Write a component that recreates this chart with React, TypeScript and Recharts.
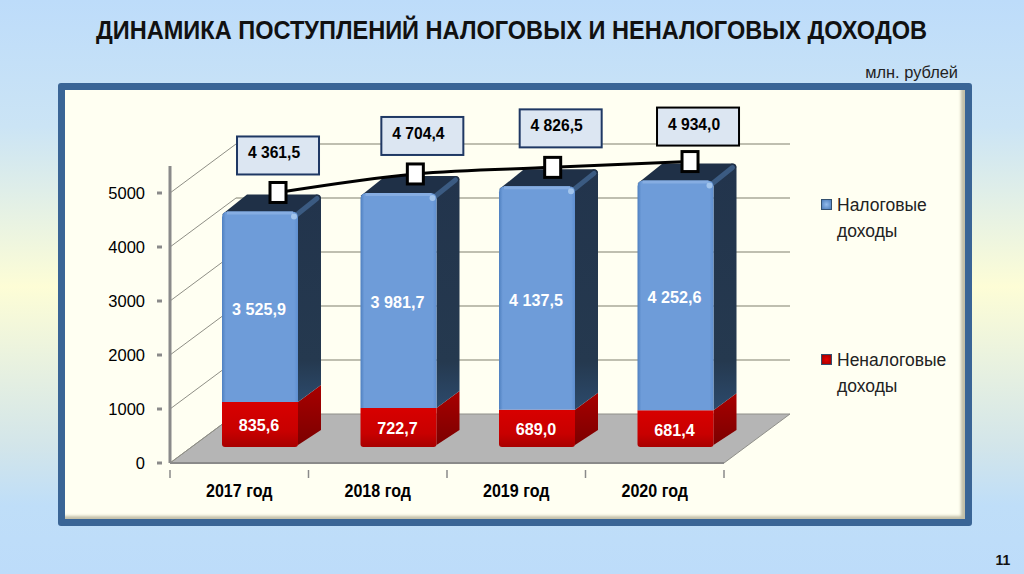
import React from "react";
import { ComposedChart, Bar, Line, XAxis, YAxis, CartesianGrid, Legend, LabelList } from "recharts";

const categories = ["2017 год", "2018 год", "2019 год", "2020 год"];
const taxRevenue = [3525.9, 3981.7, 4137.5, 4252.6];
const nonTaxRevenue = [835.6, 722.7, 689.0, 681.4];
const totalRevenue = [4361.5, 4704.4, 4826.5, 4934.0];
const yTicks = [0, 1000, 2000, 3000, 4000, 5000];
const data = categories.map((name, i) => ({
  name,
  tax: taxRevenue[i],
  nonTax: nonTaxRevenue[i],
  total: totalRevenue[i],
}));

const FONT = "'Liberation Sans', Arial, sans-serif";
const fmt = (v: number) => {
  const [a, b] = v.toFixed(1).split(".");
  const head = a.length > 3 ? a.slice(0, a.length - 3) + " " + a.slice(-3) : a;
  return head + "," + b;
};

const BAR_DX = 21, BAR_DY = -16, DEPTH_X = 23, DEPTH_Y = -17;
const LINE_SX = 0.9916, LINE_DX = 40.77, LINE_DY = -35;
const WALL_DX = 66, WALL_DY = -49;
const PLOT_L = 170, PLOT_R = 724, PLOT_TOP = 166, PLOT_BOTTOM = 463;
const boxNudge = [[0, -37], [7, -38], [8, -39], [8, -35]];
const boxStroke = ["#1f3864", "#1f3864", "#1f3864", "#000"];
const lineX = (x: number) => x * LINE_SX + LINE_DX;

function Narrow({ x, y, sx = 0.95, children, ...rest }: any) {
  return (
    <text transform={`translate(${x},${y}) scale(${sx},1)`} fontFamily={FONT} {...rest}>
      {children}
    </text>
  );
}

function Bar3D(p: any) {
  const { x, y, width, height, front, side, top } = p;
  const l = x + BAR_DX, r = l + width, t = y + BAR_DY, b = t + height;
  const rad = 6;
  if (top) {
    return (
      <g>
        <path
          d={`M${r} ${b}L${r + DEPTH_X} ${b + DEPTH_Y}L${r + DEPTH_X} ${t + DEPTH_Y + 5}Q${r + DEPTH_X} ${t + DEPTH_Y} ${r + DEPTH_X - 5} ${t + DEPTH_Y}L${r} ${t}Z`}
          fill={side}
        />
        <path
          d={`M${l} ${t + 3}L${l + DEPTH_X + 2} ${t + DEPTH_Y}L${r + DEPTH_X - 4} ${t + DEPTH_Y}Q${r + DEPTH_X} ${t + DEPTH_Y} ${r + DEPTH_X} ${t + DEPTH_Y + 4}L${r} ${t + 4}Z`}
          fill={top}
        />
        <line x1={r - 1} y1={t + 3} x2={r + DEPTH_X - 4} y2={t + DEPTH_Y + 4} stroke="#3b5b82" strokeWidth={5} strokeLinecap="round" />
        <path
          d={`M${l} ${b}L${l} ${t + rad}Q${l} ${t} ${l + rad} ${t}L${r - rad} ${t}Q${r} ${t} ${r} ${t + rad}L${r} ${b}Z`}
          fill={front}
        />
        <line x1={l + 5} y1={t + 1.5} x2={r - 5} y2={t + 1.5} stroke="#86ade2" strokeWidth={3} />
        <circle cx={r - 4} cy={t + 5} r={3} fill="#a3c5ec" />
      </g>
    );
  }
  return (
    <g>
      <path d={`M${r} ${b - 2}L${r + DEPTH_X} ${b + DEPTH_Y}L${r + DEPTH_X} ${t + DEPTH_Y}L${r} ${t}Z`} fill={side} />
      <path
        d={`M${l} ${t}L${r} ${t}L${r} ${b - 3}Q${r} ${b} ${r - 3} ${b}L${l + 3} ${b}Q${l} ${b} ${l} ${b - 3}Z`}
        fill={front}
      />
    </g>
  );
}

function BarLabel(p: any) {
  const { x, y, width, height, value, shiftY = 0 } = p;
  return (
    <Narrow
      x={x + BAR_DX + width / 2 - 1}
      y={y + BAR_DY + height / 2 + 6 + shiftY}
      textAnchor="middle"
      fill="#fff"
      fontWeight={700}
      fontSize={17}
    >
      {fmt(value)}
    </Narrow>
  );
}

function Marker(p: any) {
  const { cx, cy } = p;
  return (
    <rect x={lineX(cx) - 8} y={cy + LINE_DY - 10} width={16} height={20} fill="#fff" stroke="#000" strokeWidth={3} />
  );
}

function TotalBox(p: any) {
  const { x, y, value, index } = p;
  const cx = lineX(x) + boxNudge[index][0];
  const cy = y + LINE_DY + boxNudge[index][1];
  return (
    <g>
      <rect x={cx - 41} y={cy - 19} width={82} height={38} fill="#dce6f2" stroke={boxStroke[index]} strokeWidth={2} />
      <Narrow x={cx - 4} y={cy + 3} textAnchor="middle" fill="#000" fontWeight={700} fontSize={16.5}>
        {fmt(value)}
      </Narrow>
    </g>
  );
}

function GridRow(p: any) {
  const { x1, x2, y1 } = p;
  if (Math.abs(y1 - PLOT_TOP) < 1) return null;
  const isFloor = Math.abs(y1 - PLOT_BOTTOM) < 1;
  const bx = x1 + WALL_DX, ex = x2 + WALL_DX, by = y1 + WALL_DY;
  return (
    <g>
      {isFloor && <path d={`M${x1} ${y1}L${x2} ${y1}L${ex} ${by}L${bx} ${by}Z`} fill="#b5b5b5" stroke="#8f8f8a" />}
      <line x1={x1} y1={y1} x2={bx} y2={by} stroke="#8f8f86" strokeWidth={1} />
      {!isFloor && <line x1={bx} y1={by} x2={ex} y2={by} stroke="#bfbfb0" strokeWidth={2} />}
    </g>
  );
}

function YTick(p: any) {
  const { x, y, payload } = p;
  return (
    <g>
      <line x1={x - 5} x2={x} y1={y} y2={y} stroke="#8a8a8a" strokeWidth={3} />
      <text x={x - 17} y={y + 6} textAnchor="end" fill="#000" fontFamily={FONT} fontSize={16.5}>
        {payload.value}
      </text>
    </g>
  );
}

function XTick(p: any) {
  const { x, y, payload, index } = p;
  const half = (PLOT_R - PLOT_L) / categories.length / 2;
  return (
    <g>
      <line x1={x - half} x2={x - half} y1={y - 1} y2={y + 7} stroke="#8a8a8a" strokeWidth={1.5} />
      {index === categories.length - 1 && (
        <line x1={x + half} x2={x + half} y1={y - 1} y2={y + 7} stroke="#8a8a8a" strokeWidth={1.5} />
      )}
      <Narrow x={x} y={y + 26} sx={0.92} textAnchor="middle" fill="#000" fontWeight={700} fontSize={17.5}>
        {payload.value}
      </Narrow>
    </g>
  );
}

const legendItems = [
  { lines: ["Налоговые", "доходы"], swatch: "radial-gradient(#93bbec,#4c7cba)", top: 193 },
  { lines: ["Неналоговые", "доходы"], swatch: "radial-gradient(#e80000,#9a0000)", top: 348 },
];

function LegendBox() {
  return (
    <div style={{ position: "relative", width: 200, height: 300 }}>
      {legendItems.map((it) => (
        <div key={it.lines[0]} style={{ position: "absolute", left: 0, top: it.top - 193 }}>
          <div
            style={{
              position: "absolute",
              left: 1,
              top: 6,
              width: 9,
              height: 9,
              background: it.swatch,
              border: "1px solid #33506f",
            }}
          />
          <div style={{ marginLeft: 17, fontFamily: FONT, fontSize: 17.5, lineHeight: "25.5px", color: "#222", whiteSpace: "nowrap" }}>
            {it.lines[0]}
            <br />
            {it.lines[1]}
          </div>
        </div>
      ))}
    </div>
  );
}

export default function App() {
  return (
    <div
      style={{
        position: "absolute",
        left: 0,
        top: 0,
        width: 1024,
        height: 574,
        overflow: "hidden",
        background: "linear-gradient(180deg,#bddcfa 0%,#cbe4f5 22%,#fdfdd6 50%,#d2e5ea 78%,#bfdef8 88%,#bddcfa 100%)",
      }}
    >
      <div
        style={{
          position: "absolute",
          left: 58,
          top: 83,
          width: 900,
          height: 429,
          background: "#fffff2",
          border: "7px solid #3a6596",
          borderRadius: 3,
          boxShadow: "inset -4px -3px 3px #c2bfa8",
        }}
      />
      <svg width={1024} height={574} style={{ position: "absolute", left: 0, top: 0 }}>
        <text x={96} y={39} textLength={831} lengthAdjust="spacingAndGlyphs" fontFamily={FONT} fontWeight={700} fontSize={25} fill="#111">
          ДИНАМИКА ПОСТУПЛЕНИЙ НАЛОГОВЫХ И НЕНАЛОГОВЫХ ДОХОДОВ
        </text>
        <text x={958} y={78} textAnchor="end" fontFamily={FONT} fontSize={16.4} fill="#222">млн. рублей</text>
        <text x={1003} y={565} textAnchor="middle" fontFamily={FONT} fontWeight={700} fontSize={14} fill="#111">11</text>
      </svg>
      <div style={{ position: "absolute", left: 0, top: 0 }}>
        <ComposedChart
          width={1024}
          height={574}
          data={data}
          barSize={76}
          margin={{ top: 166, right: 100, bottom: 81, left: 120 }}
        >
          <defs>
            <linearGradient id="blueFront" x1="0" y1="0" x2="1" y2="0">
              <stop offset="0" stopColor="#4f80c0" />
              <stop offset="0.05" stopColor="#6e9cd9" />
              <stop offset="0.95" stopColor="#6e9cd9" />
              <stop offset="1" stopColor="#5f8fd0" />
            </linearGradient>
            <linearGradient id="redFront" x1="0" y1="0" x2="0" y2="1">
              <stop offset="0" stopColor="#d80000" />
              <stop offset="0.65" stopColor="#c80000" />
              <stop offset="1" stopColor="#a80000" />
            </linearGradient>
            <linearGradient id="blueSide" x1="0" y1="0" x2="0" y2="1">
              <stop offset="0" stopColor="#22344c" />
              <stop offset="0.8" stopColor="#25394f" />
              <stop offset="1" stopColor="#2c4a6c" />
            </linearGradient>
            <linearGradient id="redSide" x1="0" y1="0" x2="0" y2="1">
              <stop offset="0" stopColor="#a80000" />
              <stop offset="1" stopColor="#7c0000" />
            </linearGradient>
          </defs>
          <CartesianGrid vertical={false} horizontal={(props: any) => <GridRow key={props.y1} {...props} />} />
          <XAxis
            dataKey="name"
            height={30}
            interval={0}
            axisLine={{ stroke: "#8a8a8a", strokeWidth: 2 }}
            tickLine={false}
            tick={<XTick />}
          />
          <YAxis
            width={50}
            domain={[0, 5500]}
            ticks={yTicks}
            interval={0}
            axisLine={{ stroke: "#8a8a8a", strokeWidth: 3 }}
            tickLine={false}
            tick={<YTick />}
          />
          <Legend
            layout="vertical"
            align="right"
            verticalAlign="top"
            wrapperStyle={{ position: "absolute", left: 820, top: 193, width: 200 }}
            content={<LegendBox />}
          />
          <Bar
            dataKey="nonTax"
            stackId="s"
            isAnimationActive={false}
            shape={<Bar3D front="url(#redFront)" side="url(#redSide)" />}
          >
            <LabelList dataKey="nonTax" content={<BarLabel shiftY={1} />} />
          </Bar>
          <Bar
            dataKey="tax"
            stackId="s"
            isAnimationActive={false}
            shape={<Bar3D front="url(#blueFront)" side="url(#blueSide)" top="#1f3047" />}
          >
            <LabelList dataKey="tax" content={<BarLabel shiftY={2} />} />
          </Bar>
          <Line
            dataKey="total"
            type="monotone"
            stroke="#000"
            strokeWidth={3}
            transform={`translate(${LINE_DX},${LINE_DY}) scale(${LINE_SX},1)`}
            dot={<Marker />}
            activeDot={false}
            isAnimationActive={false}
            legendType="none"
          >
            <LabelList dataKey="total" content={<TotalBox />} />
          </Line>
        </ComposedChart>
      </div>
    </div>
  );
}
